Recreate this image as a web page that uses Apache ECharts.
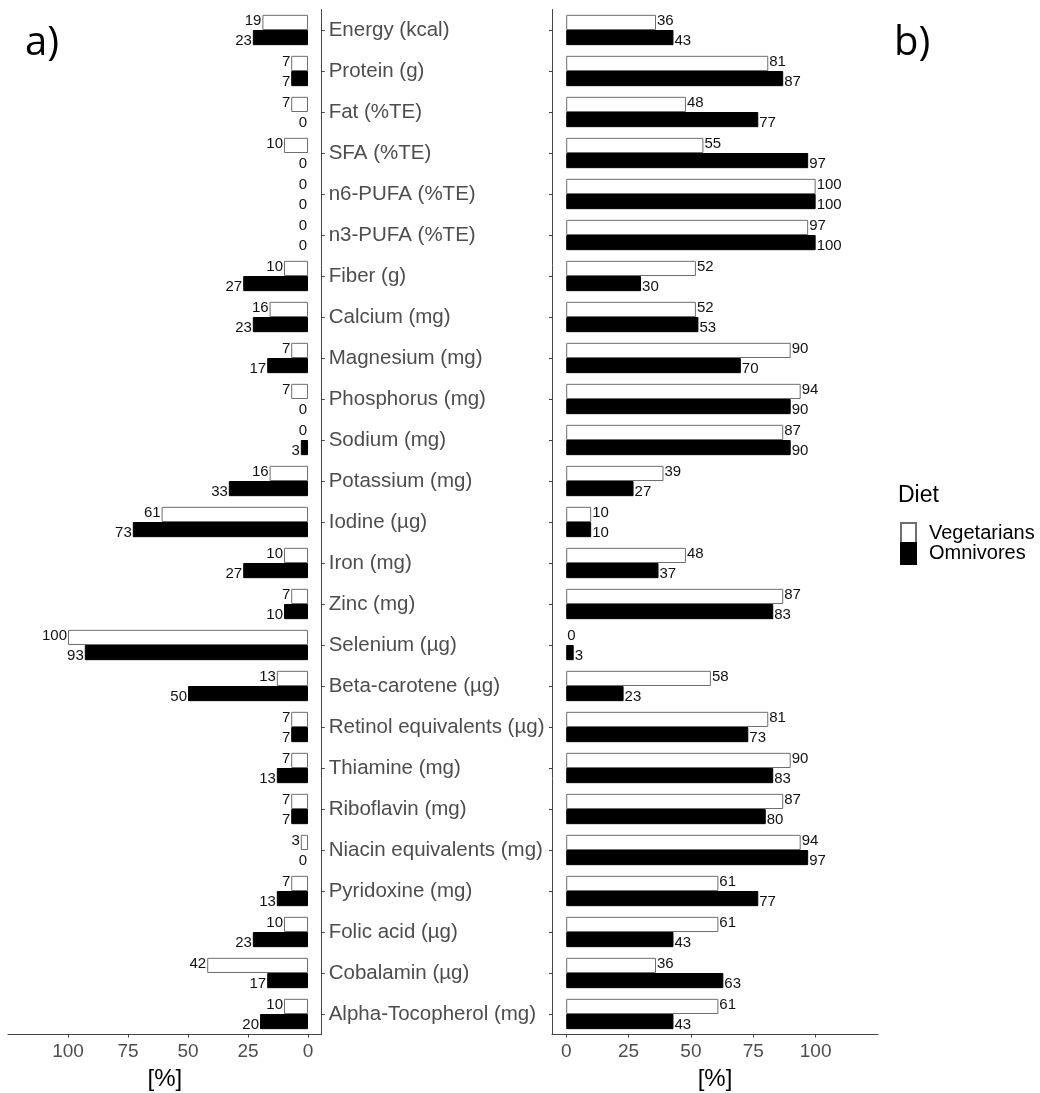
<!DOCTYPE html>
<html>
<head>
<meta charset="utf-8">
<script src="https://cdn.jsdelivr.net/npm/echarts@6/dist/echarts.min.js"></script>
<style>
html,body{margin:0;padding:0;background:#fff;}
#chart{width:1040px;height:1093px;}
</style>
</head>
<body>
<div id="chart"></div>
<script>
const categories = ["Energy (kcal)","Protein (g)","Fat (%TE)","SFA (%TE)","n6-PUFA (%TE)","n3-PUFA (%TE)","Fiber (g)","Calcium (mg)","Magnesium (mg)","Phosphorus (mg)","Sodium (mg)","Potassium (mg)","Iodine (µg)","Iron (mg)","Zinc (mg)","Selenium (µg)","Beta-carotene (µg)","Retinol equivalents (µg)","Thiamine (mg)","Riboflavin (mg)","Niacin equivalents (mg)","Pyridoxine (mg)","Folic acid (µg)","Cobalamin (µg)","Alpha-Tocopherol (mg)"];
const belowVeg  = [19,7,7,10,0,0,10,16,7,7,0,16,61,10,7,100,13,7,7,7,3,7,10,42,10];
const belowOmni = [23,7,0,0,0,0,27,23,17,0,3,33,73,27,10,93,50,7,13,7,0,13,23,17,20];
const aboveVeg  = [36,81,48,55,100,97,52,52,90,94,87,39,10,48,87,0,58,81,90,87,94,61,61,36,61];
const aboveOmni = [43,87,77,97,100,100,30,53,70,90,90,27,10,37,83,3,23,73,83,80,97,77,43,63,43];
const tickValues = [0,25,50,75,100];
const seriesNames = ["Vegetarians","Omnivores"];

const FONT = "Liberation Sans, Arial, sans-serif";
const chart = echarts.init(document.getElementById('chart'), null, {renderer:'canvas'});

const gridTop = 9.5, gridH = 1025;
function xAx(gi, inverse){
  return {
    gridIndex: gi, type:'value', min:-5.7, max:125, inverse: inverse,
    axisLine:{show:true, onZero:false, lineStyle:{color:'#444', width:1}},
    axisTick:{show:true, length:3, customValues:tickValues, lineStyle:{color:'#444'}},
    axisLabel:{customValues:tickValues, color:'#4d4d4d', fontSize:19, fontFamily:FONT, margin:8},
    splitLine:{show:false},
    name:'[%]', nameLocation:'middle', nameGap:33,
    nameTextStyle:{color:'#000', fontSize:24, fontFamily:FONT}
  };
}
function yAx(gi, pos, showLabel){
  return {
    gridIndex: gi, type:'category', data:categories, inverse:true, position:pos,
    axisLine:{show:true, onZero:false, lineStyle:{color:'#444', width:1}},
    axisTick:{show:true, length:3, alignWithLabel:true, lineStyle:{color:'#444'}},
    axisLabel:{show:showLabel, color:'#4d4d4d', fontSize:20.5, fontFamily:FONT, margin:7, align:'left'}
  };
}
function prep(arr){
  return arr.map(v => v === 0 ? {value:0, itemStyle:{borderWidth:0}} : v);
}
function barSeries(name, data, gi, white, pos){
  return {
    name:name, type:'bar', xAxisIndex:gi, yAxisIndex:gi, data:prep(data),
    barGap:'0%', barCategoryGap:'26%',
    itemStyle: white ? {color:'#fff', borderColor:'#6e6e6e', borderWidth:1}
                     : {color:'#000', borderColor:'#000', borderWidth:1},
    label:{show:true, position:pos, distance:1, color:'#111', fontSize:15, fontFamily:FONT,
           offset:[0, white ? -1.5 : 3]},
    emphasis:{disabled:true},
    animation:false
  };
}

chart.setOption({
  animation:false,
  title:[
    {text:'a)', left:20, top:19, textStyle:{fontFamily:'Open Sans', fontSize:40, fontWeight:'normal', color:'#000'}},
    {text:'b)', left:889, top:19, textStyle:{fontFamily:'Open Sans', fontSize:40, fontWeight:'normal', color:'#000'}},
    {text:'Diet', left:893, top:479, textStyle:{fontFamily:FONT, fontSize:23, fontWeight:'normal', color:'#000'}}
  ],
  legend:{
    data:seriesNames, orient:'vertical', left:895, top:517,
    itemWidth:15, itemHeight:21, itemGap:-3, icon:'rect',
    textStyle:{fontFamily:FONT, fontSize:20, color:'#000', padding:[0,0,0,8]},
    selectedMode:false
  },
  grid:[
    {left:8, top:gridTop, width:313.7, height:gridH, outerBoundsMode:'none', containLabel:false},
    {left:552, top:gridTop, width:326, height:gridH, outerBoundsMode:'none', containLabel:false}
  ],
  xAxis:[xAx(0,true), xAx(1,false)],
  yAxis:[yAx(0,'right',true), yAx(1,'left',false)],
  series:[
    barSeries(seriesNames[0], belowVeg, 0, true, 'left'),
    barSeries(seriesNames[1], belowOmni, 0, false, 'left'),
    barSeries(seriesNames[0], aboveVeg, 1, true, 'right'),
    barSeries(seriesNames[1], aboveOmni, 1, false, 'right')
  ]
});
</script>
</body>
</html>
